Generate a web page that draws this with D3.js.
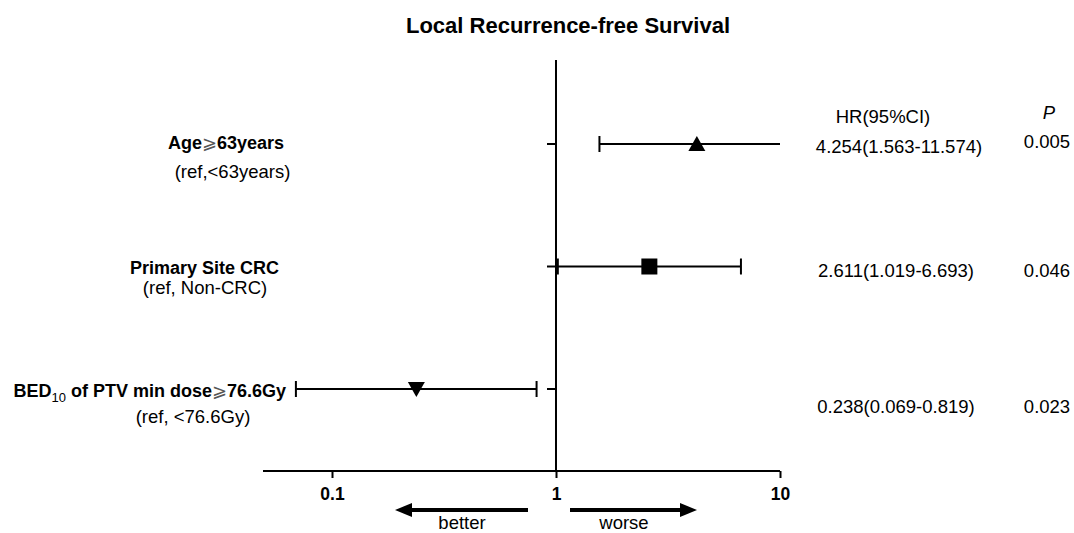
<!DOCTYPE html>
<html>
<head>
<meta charset="utf-8">
<script src="https://cdn.jsdelivr.net/npm/d3@7"></script>
<style>
  html, body { margin: 0; padding: 0; background: #fff; }
  svg { display: block; font-family: "Liberation Sans", Arial, sans-serif; }
</style>
</head>
<body>
<svg id="chart" width="1074" height="533"></svg>
<script>
// Hazard ratios with 95% confidence intervals
const variables = ["Age", "Primary Site CRC", "BED10"];
const hr      = [4.254, 2.611, 0.238];
const ciLow   = [1.563, 1.019, 0.069];
const ciHigh  = [11.574, 6.693, 0.819];
const pValues = ["0.005", "0.046", "0.023"];
const markers = ["triangle-up", "square", "triangle-down"];
const xTicks  = [0.1, 1, 10];

const svg = d3.select("#chart");
const REG = 18.5, BOLD = 18;

const x = d3.scaleLog().domain([0.0492, 10]).range([263, 780]);
const y = d3.scalePoint().domain(variables).range([144, 389]);
const axisY = 471;
const fmt = d3.format(".3f");

// Title
svg.append("text")
  .attr("x", 568).attr("y", 33)
  .attr("text-anchor", "middle")
  .attr("font-size", 22).attr("font-weight", "bold")
  .text("Local Recurrence-free Survival");

// X axis (log scale)
const xAxis = d3.axisBottom(x).tickValues(xTicks).tickSize(7).tickPadding(8)
  .tickFormat(d => String(d));
const gx = svg.append("g").attr("transform", `translate(0,${axisY})`).call(xAxis);
gx.select(".domain").attr("stroke", "#000").attr("stroke-width", 2)
  .attr("d", `M${x.range()[0]},0H${x.range()[1]}`);
gx.selectAll(".tick line").attr("stroke", "#000").attr("stroke-width", 2);
gx.selectAll(".tick text").attr("font-size", 17.5).attr("font-weight", "bold")
  .attr("fill", "#000").attr("font-family", "Liberation Sans, Arial, sans-serif")
  .attr("y", 29).attr("dy", null);

// Reference line at HR = 1 with row ticks
const gy = svg.append("g").attr("transform", `translate(${x(1)},0)`);
gy.append("line").attr("x1", 0).attr("x2", 0).attr("y1", 60).attr("y2", axisY)
  .attr("stroke", "#000").attr("stroke-width", 2);
gy.selectAll("line.rt").data(variables).enter().append("line")
  .attr("class", "rt")
  .attr("x1", -9).attr("x2", 0)
  .attr("y1", d => y(d)).attr("y2", d => y(d))
  .attr("stroke", "#000").attr("stroke-width", 2);

// Confidence intervals and point estimates
const [dMin, dMax] = x.domain();
const capH = 8;
variables.forEach((v, i) => {
  const yy = y(v);
  const lo = Math.max(ciLow[i], dMin), hi = Math.min(ciHigh[i], dMax);
  svg.append("line")
    .attr("x1", x(lo)).attr("x2", x(hi)).attr("y1", yy).attr("y2", yy)
    .attr("stroke", "#000").attr("stroke-width", 2);
  [ciLow[i], ciHigh[i]].forEach(c => {
    if (c >= dMin && c <= dMax) {
      svg.append("line")
        .attr("x1", x(c)).attr("x2", x(c))
        .attr("y1", yy - capH).attr("y2", yy + capH)
        .attr("stroke", "#000").attr("stroke-width", 2);
    }
  });
  const px = x(hr[i]);
  const m = markers[i];
  if (m === "square") {
    svg.append("rect").attr("x", px - 8).attr("y", yy - 8)
      .attr("width", 16).attr("height", 16).attr("fill", "#000");
  } else {
    const s = m === "triangle-up" ? -1 : 1;
    svg.append("path")
      .attr("d", `M${px - 8.5},${yy - s * 7}L${px + 8.5},${yy - s * 7}L${px},${yy + s * 8}Z`)
      .attr("fill", "#000");
  }
});

// HR (95% CI) and P columns
const hrPos = [[899, 153], [896, 277], [896, 413]];
const pPos  = [[1047, 148], [1047, 277], [1047, 413]];
variables.forEach((v, i) => {
  svg.append("text")
    .attr("x", hrPos[i][0]).attr("y", hrPos[i][1])
    .attr("font-size", REG).attr("text-anchor", "middle")
    .text(`${fmt(hr[i])}(${fmt(ciLow[i])}-${fmt(ciHigh[i])})`);
  svg.append("text").attr("x", pPos[i][0]).attr("y", pPos[i][1])
    .attr("text-anchor", "middle").attr("font-size", REG).text(pValues[i]);
});

// Column headers
svg.append("text").attr("x", 883).attr("y", 123).attr("text-anchor", "middle")
  .attr("font-size", REG).text("HR(95%CI)");
svg.append("text").attr("x", 1049).attr("y", 119).attr("text-anchor", "middle")
  .attr("font-size", REG).attr("font-style", "italic").text("P");

// Row labels
function boldLabel(xp, yp, anchor, parts) {
  const t = svg.append("text").attr("x", xp).attr("y", yp)
    .attr("text-anchor", anchor).attr("font-size", BOLD).attr("font-weight", "bold");
  parts.forEach(p => {
    const ts = t.append("tspan").text(p.t);
    if (p.light) ts.attr("font-weight", "normal").attr("fill", "#555");
    if (p.sub) ts.attr("font-weight", "normal").attr("font-size", 13).attr("dy", 5);
    if (p.after) ts.attr("dy", -5);
  });
  return t;
}
function refLabel(xp, yp, txt) {
  svg.append("text").attr("x", xp).attr("y", yp).attr("text-anchor", "middle")
    .attr("font-size", REG).text(txt);
}
boldLabel(226, 149, "middle", [{t: "Age"}, {t: "\u2A7E", light: true}, {t: "63years"}]);
refLabel(232.5, 178, "(ref,<63years)");

boldLabel(204.5, 274, "middle", [{t: "Primary Site CRC"}]);
refLabel(205, 294, "(ref, Non-CRC)");

boldLabel(286, 397, "end", [{t: "BED"}, {t: "10", sub: true}, {t: " of PTV min dose", after: true},
  {t: "\u2A7E", light: true}, {t: "76.6Gy"}]);
refLabel(193, 423, "(ref, <76.6Gy)");

// Direction arrows
function arrow(x1, x2, yy) {
  const dir = Math.sign(x2 - x1);
  svg.append("line").attr("x1", x1).attr("x2", x2 - dir * 14)
    .attr("y1", yy).attr("y2", yy).attr("stroke", "#000").attr("stroke-width", 4);
  svg.append("path")
    .attr("d", `M${x2},${yy}L${x2 - dir * 17},${yy - 7}L${x2 - dir * 17},${yy + 7}Z`)
    .attr("fill", "#000");
}
arrow(528, 395, 510);
arrow(570, 697, 510);
svg.append("text").attr("x", 462).attr("y", 529).attr("text-anchor", "middle")
  .attr("font-size", REG).text("better");
svg.append("text").attr("x", 624).attr("y", 529).attr("text-anchor", "middle")
  .attr("font-size", REG).text("worse");
</script>
</body>
</html>
